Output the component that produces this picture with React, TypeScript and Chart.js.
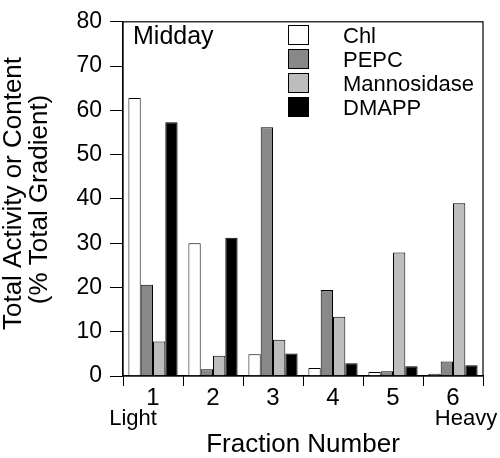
import React, { useEffect, useRef } from "react";
import { Chart, registerables } from "chart.js";

Chart.register(...registerables);

const categories = ["1", "2", "3", "4", "5", "6"];
const seriesNames = ["Chl", "PEPC", "Mannosidase", "DMAPP"];
const chl = [62.8, 30.0, 4.9, 1.8, 0.9, 0.5];
const pepc = [20.6, 1.5, 56.2, 19.4, 1.1, 3.3];
const mannosidase = [7.8, 4.6, 8.2, 13.4, 27.9, 39.0];
const dmapp = [57.3, 31.2, 5.1, 2.9, 2.2, 2.4];
const seriesColors = ["#ffffff", "#888888", "#bdbdbd", "#000000"];
const yTicks = [0, 10, 20, 30, 40, 50, 60, 70, 80];

const FONT = "'Liberation Sans', Arial, Helvetica, sans-serif";

const decorPlugin = {
  id: "decor",
  afterDatasetsDraw(chart: any) {
    const { ctx, chartArea } = chart;
    ctx.save();
    ctx.strokeStyle = "#000";
    ctx.lineWidth = 1.2;
    ctx.strokeRect(chartArea.left, chartArea.top, chartArea.right - chartArea.left, chartArea.bottom - chartArea.top);
    ctx.restore();
  },
  afterDraw(chart: any) {
    const { ctx, chartArea } = chart;
    ctx.save();
    ctx.fillStyle = "#000";
    ctx.textBaseline = "alphabetic";
    // Midday label
    ctx.font = `25px ${FONT}`;
    ctx.textAlign = "left";
    ctx.fillText("Midday", chartArea.left + 10, 44);
    // legend
    const boxX = 288;
    const rowTop = 25;
    const rowStep = 24;
    ctx.font = `22px ${FONT}`;
    seriesNames.forEach((name, i) => {
      const y = rowTop + i * rowStep;
      ctx.fillStyle = seriesColors[i];
      ctx.fillRect(boxX, y, 20, 19);
      ctx.strokeStyle = "#000";
      ctx.lineWidth = 1;
      ctx.strokeRect(boxX + 0.5, y + 0.5, 20, 19);
      ctx.fillStyle = "#000";
      ctx.fillText(name, 343, y + 18);
    });
    // Light / Heavy
    ctx.font = `22px ${FONT}`;
    ctx.textAlign = "center";
    ctx.fillText("Light", 133, 425);
    ctx.fillText("Heavy", 466, 425);
    // x title
    ctx.font = `26px ${FONT}`;
    ctx.fillText("Fraction Number", 303, 452);
    // y title
    ctx.font = `26px ${FONT}`;
    ctx.save();
    ctx.translate(21, 193.5);
    ctx.rotate(-Math.PI / 2);
    ctx.fillText("Total Activity or Content", 0, 0);
    ctx.restore();
    ctx.save();
    ctx.translate(47, 199.5);
    ctx.rotate(-Math.PI / 2);
    ctx.fillText("(% Total Gradient)", 0, 0);
    ctx.restore();
    ctx.restore();
  },
};

export default function App() {
  const ref = useRef<HTMLCanvasElement>(null);
  useEffect(() => {
    if (!ref.current) return;
    const data = [chl, pepc, mannosidase, dmapp];
    const chart = new Chart(ref.current, {
      type: "bar",
      data: {
        labels: categories,
        datasets: seriesNames.map((name, i) => ({
          label: name,
          data: data[i],
          backgroundColor: seriesColors[i],
          borderColor: "#000",
          borderWidth: 1,
          categoryPercentage: 0.82,
          barPercentage: 1.0,
        })),
      },
      options: {
        responsive: false,
        animation: false,
        layout: { padding: { left: 0, top: 15, right: 17, bottom: 0 } },
        plugins: { legend: { display: false }, tooltip: { enabled: false } },
        scales: {
          x: {
            grid: { display: true, drawOnChartArea: false, drawTicks: true, tickLength: 10, color: "#000", offset: true },
            border: { display: true, color: "#000", width: 1.2 },
            ticks: { color: "#000", font: { family: FONT, size: 24, lineHeight: 1 }, padding: 0, maxRotation: 0 },
            afterFit: (s: any) => { s.height = 82; },
          },
          y: {
            min: 0,
            max: 80,
            grid: { display: true, drawOnChartArea: false, drawTicks: true, tickLength: 13, color: "#000" },
            border: { display: true, color: "#000", width: 1.2 },
            ticks: {
              color: "#000",
              font: { family: FONT, size: 23 },
              padding: 8,
              stepSize: 10,
              callback: (v: any) => (yTicks.includes(Number(v)) ? String(v) : ""),
            },
            afterFit: (s: any) => { s.width = 123; },
          },
        },
      },
      plugins: [decorPlugin],
    });
    return () => chart.destroy();
  }, []);
  return (
    <div style={{ position: "absolute", left: 0, top: 0, width: 500, height: 458, background: "#fff" }}>
      <canvas ref={ref} width={500} height={458} />
    </div>
  );
}
